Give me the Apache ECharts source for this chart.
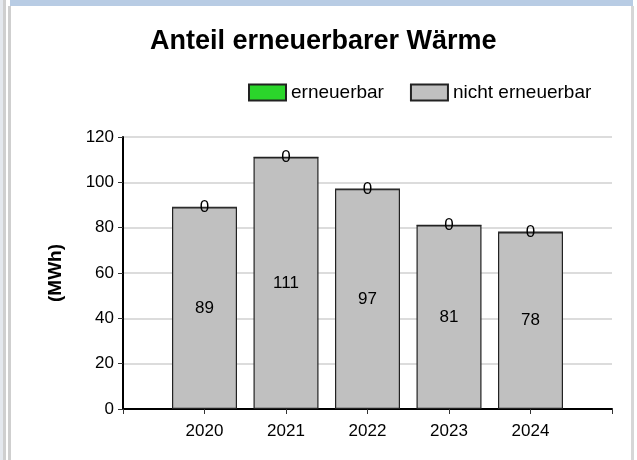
<!DOCTYPE html>
<html>
<head>
<meta charset="utf-8">
<script src="https://cdn.jsdelivr.net/npm/echarts@6/dist/echarts.min.js"></script>
<style>
html, body { margin: 0; padding: 0; background: #fff; }
.frame { position: absolute; }
</style>
</head>
<body>
<div class="frame" style="left:0;top:0;width:4px;height:460px;background:#e4e8ee"></div>
<div class="frame" style="left:3px;top:0;width:3px;height:460px;background:#cfcfcf"></div>
<div class="frame" style="left:8px;top:6px;width:3px;height:454px;background:#cfcfcf"></div>
<div class="frame" style="left:10px;top:0;width:623px;height:6px;background:#b8cce4"></div>
<div class="frame" style="left:631px;top:6px;width:3px;height:454px;background:#d6d6d6"></div>
<div id="main" style="position:absolute;left:0;top:0;width:637px;height:460px"></div>
<script>
// Werte aus dem Diagramm
var jahre = ['2020', '2021', '2022', '2023', '2024'];
var erneuerbar = [0, 0, 0, 0, 0];
var nichtErneuerbar = [89, 111, 97, 81, 78];
var yTicks = [0, 20, 40, 60, 80, 100, 120];

// leere Kategorie links und rechts, damit die Balken wie im Original sitzen
var xDaten = [''].concat(jahre, ['']);
function auffuellen(arr) { return ['-'].concat(arr, ['-']); }

var schrift = '"Liberation Sans", Arial, sans-serif';

var myChart = echarts.init(document.getElementById('main'));
myChart.setOption({
    animation: false,
    title: {
        text: 'Anteil erneuerbarer Wärme',
        left: 145,
        top: 23,
        textStyle: { fontFamily: schrift, fontSize: 27, fontWeight: 'bold', color: '#000' }
    },
    legend: {
        data: ['erneuerbar', 'nicht erneuerbar'],
        icon: 'rect',
        left: 248,
        top: 83,
        padding: 0,
        itemWidth: 37,
        itemHeight: 16,
        itemGap: 26,
        textStyle: { fontFamily: schrift, fontSize: 19, color: '#000' }
    },
    grid: { left: 123, top: 137, right: 25, bottom: 51 },
    xAxis: {
        type: 'category',
        data: xDaten,
        boundaryGap: false,
        axisLine: { lineStyle: { color: '#000', width: 2 } },
        axisTick: { show: true, length: 5, lineStyle: { color: '#333' } },
        axisLabel: { fontFamily: schrift, fontSize: 17, color: '#000', margin: 14 },
        splitLine: { show: false }
    },
    yAxis: {
        type: 'value',
        min: yTicks[0],
        max: yTicks[yTicks.length - 1],
        interval: 20,
        name: '(MWh)',
        nameLocation: 'middle',
        nameRotate: 90,
        nameGap: 58,
        nameTextStyle: { fontFamily: schrift, fontSize: 19, fontWeight: 'bold', color: '#000' },
        axisLine: { show: true, lineStyle: { color: '#000', width: 2 } },
        axisTick: { show: true, length: 5, lineStyle: { color: '#333' } },
        axisLabel: { fontFamily: schrift, fontSize: 17, color: '#000', margin: 9 },
        splitLine: { lineStyle: { color: '#dcdcdc', width: 2 } }
    },
    series: [{
        name: 'nicht erneuerbar',
        type: 'bar',
        stack: 'w',
        barWidth: 65,
        data: auffuellen(nichtErneuerbar),
        itemStyle: { color: '#c0c0c0', borderColor: '#222', borderWidth: 1.2 },
        label: { show: true, position: 'inside', fontFamily: schrift, fontSize: 17, color: '#000' }
    }, {
        name: 'erneuerbar',
        type: 'bar',
        stack: 'w',
        barWidth: 65,
        data: auffuellen(erneuerbar),
        itemStyle: { color: '#2bd62b', borderColor: '#222', borderWidth: 1.2 },
        label: { show: true, position: 'inside', fontFamily: schrift, fontSize: 17, color: '#000' }
    }]
});
</script>
</body>
</html>
